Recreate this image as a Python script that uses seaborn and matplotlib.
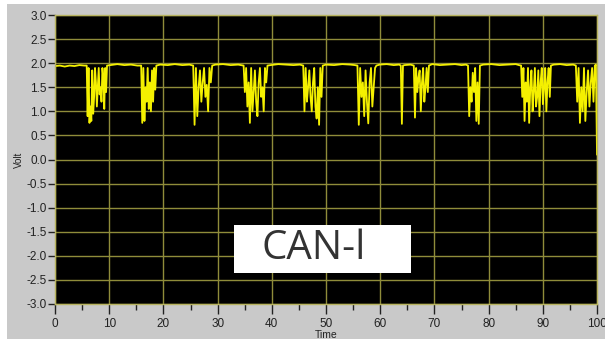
import numpy as np
import pandas as pd
import matplotlib
matplotlib.use("Agg")
import matplotlib.pyplot as plt
import seaborn as sns
from matplotlib.patches import Rectangle
from matplotlib.ticker import MultipleLocator

# baseline samples between the bursts (recessive level ~1.95 V)
base_time = [0, 0.9, 1.8, 2.7, 3.6, 4.5, 5.4,
             10.2, 11.5, 12.8, 14.0, 15.2,
             19.4, 20.8, 22.1, 23.5, 24.8,
             29.6, 31.0, 32.4, 33.8,
             39.8, 41.2, 42.6, 44.0, 45.2,
             50.0, 51.5, 53.0, 54.5, 55.3,
             59.9, 61.2, 62.5, 63.5, 64.5, 65.6,
             69.6, 71.0, 72.4, 73.8, 75.0, 75.8,
             79.0, 80.5, 82.0, 83.5, 85.0, 85.6,
             92.0, 93.2, 94.4, 95.6,
             99.8]
base_volt = [1.94, 1.95, 1.93, 1.95, 1.94, 1.96, 1.95,
             1.96, 1.98, 1.96, 1.97, 1.95,
             1.97, 1.96, 1.98, 1.96, 1.97,
             1.97, 1.98, 1.96, 1.97,
             1.96, 1.98, 1.97, 1.96, 1.97,
             1.97, 1.96, 1.98, 1.97, 1.96,
             1.97, 1.98, 1.96, 1.97, 1.96, 1.97,
             1.98, 1.96, 1.97, 1.98, 1.96, 1.97,
             1.97, 1.98, 1.96, 1.97, 1.98, 1.96,
             1.97, 1.98, 1.96, 1.97,
             1.97]

# bursts of dominant bits: start, end, sampled voltages
burst_start = [5.85, 15.9, 25.5, 34.8, 45.8, 55.8, 63.8, 66.2, 76.2, 86.0, 96.1]
burst_end = [9.6, 18.7, 29.0, 39.2, 49.4, 59.3, 64.2, 69.0, 78.4, 91.5, 99.6]
burst_volt = [
    [1.95, 0.9, 1.9, 0.76, 1.1, 0.8, 1.85, 0.95, 1.3, 1.9, 1.6, 1.1,
     1.5, 1.9, 1.35, 1.5, 1.2, 1.9, 1.7, 1.05, 1.9, 1.4, 1.95],
    [1.95, 0.76, 1.9, 0.8, 1.5, 1.2, 1.9, 1.05, 1.6, 1.0, 1.85, 1.2,
     1.9, 1.45, 1.95],
    [1.95, 0.72, 1.9, 0.9, 1.5, 1.85, 1.2, 1.6, 1.9, 1.3, 1.55, 1.0,
     1.9, 1.6, 1.95],
    [1.95, 1.4, 1.9, 1.1, 1.6, 0.76, 1.9, 1.0, 1.4, 1.85, 1.2, 0.9,
     1.6, 1.9, 1.3, 1.5, 1.0, 1.9, 1.6, 1.95],
    [1.95, 1.0, 1.9, 1.2, 1.5, 1.85, 1.3, 1.0, 1.6, 1.9, 1.1, 0.85,
     1.5, 0.72, 1.9, 1.3, 1.95],
    [1.95, 0.72, 1.9, 1.3, 1.6, 0.9, 1.85, 1.2, 0.75, 1.6, 1.9, 1.1,
     1.5, 1.9, 1.95],
    [1.95, 0.74, 1.95],
    [1.95, 0.87, 1.9, 1.4, 1.7, 1.85, 1.0, 1.6, 1.9, 1.2, 1.5, 1.9,
     1.4, 1.95],
    [1.95, 0.9, 1.5, 1.2, 1.8, 1.4, 1.9, 0.8, 1.6, 0.74, 1.95],
    [1.95, 1.3, 1.9, 0.8, 1.6, 1.2, 1.9, 0.76, 1.5, 1.85, 1.0, 1.4,
     1.9, 1.1, 1.3, 1.85, 0.9, 1.6, 1.9, 1.15, 1.5, 1.9, 1.0, 1.6,
     1.9, 1.3, 1.95],
    [1.95, 1.2, 1.9, 0.76, 1.5, 1.0, 1.9, 0.8, 1.4, 1.85, 1.1, 1.6,
     1.9, 1.2, 1.95],
]
end_time = [100.0]
end_volt = [0.1]

y_ticks = [-3.0, -2.5, -2.0, -1.5, -1.0, -0.5, 0.0, 0.5, 1.0, 1.5, 2.0, 2.5, 3.0]
x_ticks = [0, 10, 20, 30, 40, 50, 60, 70, 80, 90, 100]

# assemble the trace
t_all = list(base_time) + list(end_time)
v_all = list(base_volt) + list(end_volt)
for s, e, vals in zip(burst_start, burst_end, burst_volt):
    t_all += list(np.linspace(s, e, len(vals)))
    v_all += vals
df = pd.DataFrame({"Time": t_all, "Volt": v_all}).sort_values("Time")

sns.set_style("dark", {"axes.facecolor": "black"})
plt.rcParams["font.family"] = ["Liberation Sans", "DejaVu Sans"]

panel = "#c9c9c9"
grid_c = "#8f8c3a"

fig = plt.figure(figsize=(6.05, 3.39), dpi=100)
fig.patch.set_facecolor("white")
fig.patches.append(Rectangle((7 / 605, 0), 1, 1 - 4 / 339, transform=fig.transFigure,
                             facecolor=panel, edgecolor="none", zorder=-10))

ax = fig.add_axes([55 / 605, 1 - 304 / 339, 542 / 605, 289 / 339])
ax.set_facecolor("black")

sns.lineplot(data=df, x="Time", y="Volt", sort=False, estimator=None,
             color="#f4f000", linewidth=1.3, ax=ax)

ax.set_xlim(0, 100)
ax.set_ylim(-3, 3)
ax.set_xticks(x_ticks)
ax.set_yticks(y_ticks)
ax.set_yticklabels([f"{v:.1f}" for v in y_ticks])
ax.xaxis.set_minor_locator(MultipleLocator(5))

ax.grid(True, which="major", color=grid_c, linewidth=1.0)
ax.grid(False, which="minor")
for sp in ax.spines.values():
    sp.set_visible(True)
    sp.set_color("#b8b460")
    sp.set_linewidth(1.0)

ax.tick_params(axis="both", which="major", direction="out", length=5, width=1,
               color="#222222", labelsize=8.5, labelcolor="#222222", pad=1,
               left=True, bottom=True)
ax.tick_params(axis="x", which="major", length=7, pad=3)
ax.tick_params(axis="x", which="minor", direction="out", length=4, width=1,
               color="#222222", bottom=True)

ax.set_xlabel("Time", fontsize=7.5, color="#222222", labelpad=0)
ax.set_ylabel("Volt", fontsize=7, color="#222222", labelpad=2)

# caption box
fig.patches.append(Rectangle((234 / 605, 1 - 273 / 339), 177 / 605, 48 / 339,
                             transform=fig.transFigure, facecolor="white",
                             edgecolor="none", zorder=5))
fig.text(262 / 605, 1 - 249 / 339, "CAN-l", fontsize=29, color="#333333",
         family=["Open Sans", "DejaVu Sans"], va="center", ha="left", zorder=6)

fig.savefig("out.png", dpi=100, facecolor=fig.get_facecolor())
